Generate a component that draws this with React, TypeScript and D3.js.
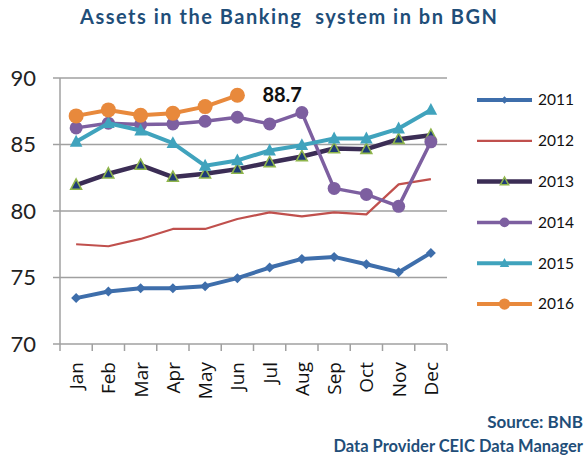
import React from "react";
import * as d3 from "d3";

const months = ["Jan", "Feb", "Mar", "Apr", "May", "Jun", "Jul", "Aug", "Sep", "Oct", "Nov", "Dec"];
const yTicks = [70, 75, 80, 85, 90];

const s2011 = [73.45, 73.95, 74.2, 74.2, 74.35, 74.95, 75.75, 76.4, 76.55, 76.0, 75.4, 76.85];
const s2012 = [77.5, 77.35, 77.9, 78.65, 78.65, 79.4, 79.9, 79.6, 79.9, 79.75, 82.0, 82.4];
const s2013 = [81.95, 82.8, 83.45, 82.55, 82.8, 83.15, 83.65, 84.1, 84.7, 84.65, 85.4, 85.7];
const s2014 = [86.25, 86.6, 86.5, 86.55, 86.75, 87.05, 86.55, 87.4, 81.7, 81.25, 80.35, 85.2];
const s2015 = [85.2, 86.6, 86.05, 85.1, 83.4, 83.8, 84.55, 84.95, 85.45, 85.45, 86.2, 87.6];
const s2016 = [87.15, 87.6, 87.2, 87.35, 87.85, 88.7];

type Series = { name: string; values: number[]; color: string; width: number; marker: string; markerFill?: string; markerStroke?: string; size: number };

const series: Series[] = [
  { name: "2011", values: s2011, color: "#3e6eab", width: 4, marker: "diamond", size: 5 },
  { name: "2012", values: s2012, color: "#c0504d", width: 2.2, marker: "none", size: 0 },
  { name: "2013", values: s2013, color: "#3b2d55", width: 4.5, marker: "triangle", markerFill: "#1f3c78", markerStroke: "#8fb54c", size: 6 },
  { name: "2014", values: s2014, color: "#7d5fa0", width: 3.5, marker: "circle", size: 6.5 },
  { name: "2015", values: s2015, color: "#40a3bd", width: 4, marker: "triangle", size: 7 },
  { name: "2016", values: s2016, color: "#e8893c", width: 4, marker: "circle", size: 7.5 },
];

const left = 60, right = 447, top = 78, bottom = 344;

function Marker({ s, x, y }: { s: Series; x: number; y: number }) {
  const fill = s.markerFill || s.color;
  const stroke = s.markerStroke || s.color;
  const r = s.size;
  if (s.marker === "circle") return <circle cx={x} cy={y} r={r} fill={fill} />;
  if (s.marker === "diamond")
    return <path d={`M${x},${y - r}L${x + r},${y}L${x},${y + r}L${x - r},${y}Z`} fill={fill} />;
  if (s.marker === "triangle")
    return (
      <path
        d={`M${x},${y - r}L${x + r * 0.9},${y + r * 0.7}L${x - r * 0.9},${y + r * 0.7}Z`}
        fill={fill}
        stroke={stroke}
        strokeWidth={s.markerStroke ? 1.6 : 0}
      />
    );
  return null;
}

export default function App() {
  const x = d3.scaleBand<string>().domain(months).range([left, right]);
  const y = d3.scaleLinear().domain([70, 90]).range([bottom, top]);
  const cx = (m: string) => (x(m) as number) + x.bandwidth() / 2;
  const line = d3
    .line<number>()
    .x((_, i) => cx(months[i]))
    .y((d) => y(d));

  const font = "Lato, 'Open Sans', sans-serif";

  return (
    <svg width={587} height={467} style={{ position: "absolute", left: 0, top: 0, background: "#fff" }} fontFamily={font}>
      <text x={80} y={24} fontSize={20} fontWeight="bold" fill="#1f4e79" textLength={417} lengthAdjust="spacing" style={{ whiteSpace: "pre" }}>
        Assets in the Banking  system in bn BGN
      </text>

      {/* grid + y axis */}
      {yTicks.map((t) => (
        <g key={t}>
          {t > 70 && <line x1={left} x2={right} y1={y(t)} y2={y(t)} stroke="#a0a0a0" strokeWidth={1.5} />}
          <line x1={left - 7} x2={left} y1={y(t)} y2={y(t)} stroke="#a0a0a0" strokeWidth={1.5} />
          <text x={36} y={y(t)} dy="0.35em" textAnchor="end" fontSize={22} fill="#222">
            {t}
          </text>
        </g>
      ))}
      <line x1={left} x2={left} y1={top} y2={bottom} stroke="#a0a0a0" strokeWidth={1.5} />
      <line x1={left} x2={right} y1={bottom} y2={bottom} stroke="#a0a0a0" strokeWidth={1.5} />
      {d3.range(13).map((i) => {
        const xx = left + (i * (right - left)) / 12;
        return <line key={i} x1={xx} x2={xx} y1={bottom} y2={bottom + 7} stroke="#a0a0a0" strokeWidth={1.5} />;
      })}
      {months.map((m) => (
        <text
          key={m}
          transform={`translate(${cx(m) + 7},${bottom + 18}) rotate(-90)`}
          textAnchor="end"
          fontSize={19}
          fill="#111"
          fontFamily="'Open Sans', sans-serif"
        >
          {m}
        </text>
      ))}

      {/* series */}
      {series.map((s) => (
        <g key={s.name}>
          <path d={line(s.values) || ""} fill="none" stroke={s.color} strokeWidth={s.width} strokeLinejoin="round" />
          {s.values.map((v, i) => (
            <Marker key={i} s={s} x={cx(months[i])} y={y(v)} />
          ))}
        </g>
      ))}

      <text x={cx("Jun") + 25} y={y(88.7) + 7} fontSize={20} fontWeight="bold" fill="#111">
        88.7
      </text>

      {/* legend */}
      {series.map((s, i) => {
        const ly = 100 + i * 40.8;
        return (
          <g key={s.name}>
            <line x1={477} x2={532} y1={ly} y2={ly} stroke={s.color} strokeWidth={s.width} />
            <Marker s={{ ...s, size: s.size * 0.75 }} x={504.5} y={ly} />
            <text x={538} y={ly} dy="0.35em" fontSize={15.5} fill="#111">
              {s.name}
            </text>
          </g>
        );
      })}

      <text x={583} y={428} textAnchor="end" fontSize={17} fontWeight="bold" fill="#1f4e79">
        Source: BNB
      </text>
      <text x={583} y={452} textAnchor="end" fontSize={16.5} fontWeight="bold" fill="#1f4e79">
        Data Provider CEIC Data Manager
      </text>
    </svg>
  );
}
